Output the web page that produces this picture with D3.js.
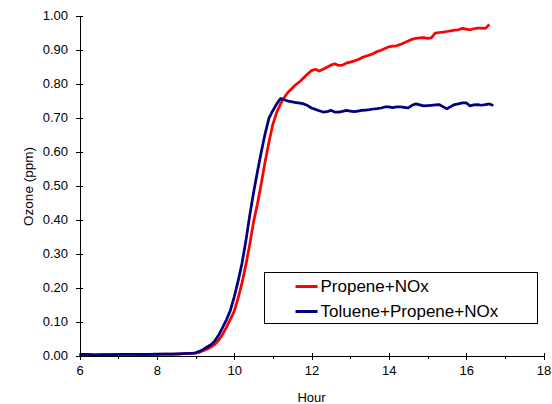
<!DOCTYPE html>
<html>
<head>
<meta charset="utf-8">
<script src="https://cdn.jsdelivr.net/npm/d3@7"></script>
<style>
	body { margin: 0; background: #fff; }
	svg text { font-family: "Liberation Sans", Arial, sans-serif; fill: #000; }
	.axis path, .axis line { stroke: #000; shape-rendering: crispEdges; }
</style>
</head>
<body>
<script>
// time of day (hours)
var hours = [6.0, 6.2, 6.4, 6.6, 6.8, 7.0, 7.2, 7.4, 7.6, 7.8, 8.0, 8.2, 8.4, 8.6, 8.8,
	8.9, 9.0, 9.1, 9.2, 9.3, 9.4, 9.5, 9.6, 9.7, 9.8,
	9.9, 10.0, 10.1, 10.2, 10.3, 10.4, 10.5, 10.6, 10.7, 10.8,
	10.9, 11.0, 11.1, 11.2, 11.3, 11.4, 11.5, 11.6, 11.7, 11.8,
	11.9, 12.0, 12.1, 12.2, 12.3, 12.4, 12.5, 12.6, 12.7, 12.8,
	12.9, 13.0, 13.1, 13.2, 13.3, 13.4, 13.5, 13.6, 13.7, 13.8,
	13.9, 14.0, 14.1, 14.2, 14.3, 14.4, 14.5, 14.6, 14.7, 14.8,
	14.9, 15.0, 15.1, 15.2, 15.3, 15.4, 15.5, 15.6, 15.7, 15.8,
	15.9, 16.0, 16.1, 16.2, 16.3, 16.4, 16.5, 16.6, 16.7];

// ozone (ppm), Propene+NOx run
var propene = [0.002, 0.002, 0.002, 0.003, 0.003, 0.003, 0.003, 0.003, 0.002, 0.003, 0.003, 0.004, 0.004, 0.005, 0.006,
	0.006, 0.007, 0.010, 0.014, 0.019, 0.025, 0.033, 0.045, 0.062, 0.083,
	0.106, 0.130, 0.168, 0.212, 0.265, 0.325, 0.392, 0.445, 0.505, 0.570,
	0.628, 0.680, 0.715, 0.740, 0.760, 0.775, 0.786, 0.797, 0.806, 0.817,
	0.828, 0.838, 0.842, 0.837, 0.842, 0.848, 0.854, 0.858, 0.853, 0.854,
	0.860, 0.863, 0.866, 0.870, 0.876, 0.880, 0.884, 0.888, 0.894, 0.898,
	0.903, 0.908, 0.910, 0.911, 0.915, 0.920, 0.925, 0.930, 0.933, 0.934,
	0.935, 0.933, 0.934, 0.948, 0.950, 0.951, 0.953, 0.955, 0.957, 0.958,
	0.962, 0.960, 0.958, 0.961, 0.963, 0.963, 0.962, 0.974, null];

// ozone (ppm), Toluene+Propene+NOx run
var toluene = [0.003, 0.003, 0.002, 0.002, 0.002, 0.003, 0.003, 0.003, 0.003, 0.003, 0.004, 0.004, 0.004, 0.005, 0.006,
	0.006, 0.008, 0.012, 0.018, 0.025, 0.032, 0.043, 0.060, 0.082, 0.105,
	0.132, 0.172, 0.218, 0.270, 0.335, 0.410, 0.478, 0.540, 0.598, 0.652,
	0.698, 0.720, 0.740, 0.756, 0.752, 0.748, 0.746, 0.744, 0.742, 0.740,
	0.735, 0.728, 0.724, 0.720, 0.716, 0.717, 0.721, 0.716, 0.716, 0.718,
	0.721, 0.719, 0.717, 0.719, 0.721, 0.722, 0.723, 0.725, 0.726, 0.728,
	0.731, 0.731, 0.729, 0.731, 0.731, 0.730, 0.728, 0.736, 0.740, 0.737,
	0.734, 0.735, 0.736, 0.737, 0.738, 0.732, 0.726, 0.732, 0.738, 0.740,
	0.743, 0.743, 0.734, 0.737, 0.738, 0.736, 0.738, 0.740, 0.735];

var seriesNames = ["Propene+NOx", "Toluene+Propene+NOx"];
var seriesColors = ["#ff0000", "#000080"];
var xTicks = [6, 8, 10, 12, 14, 16, 18];
var xMinorTicks = [7, 9, 11, 13, 15, 17];
var yTicks = [0, 0.1, 0.2, 0.3, 0.4, 0.5, 0.6, 0.7, 0.8, 0.9, 1.0];

var width = 552, height = 404;
var plot = {left: 79.5, right: 543.5, top: 15.5, bottom: 355.5};

var x = d3.scaleLinear().domain([6, 18]).range([plot.left, plot.right]);
var y = d3.scaleLinear().domain([0, 1]).range([plot.bottom, plot.top]);

var svg = d3.select("body").append("svg")
	.attr("width", width)
	.attr("height", height);

// series lines
var series = [propene, toluene];
var line = d3.line()
	.defined(function(d) { return d[1] != null; })
	.x(function(d) { return x(d[0]); })
	.y(function(d) { return y(d[1]); });

series.forEach(function(vals, i) {
	svg.append("path")
		.datum(hours.map(function(h, j) { return [h, vals[j]]; }))
		.attr("fill", "none")
		.attr("stroke", seriesColors[i])
		.attr("stroke-width", 2.75)
		.attr("stroke-linejoin", "round")
		.attr("d", line);
});

// axes
var gY = svg.append("g")
	.attr("class", "axis")
	.attr("transform", "translate(" + plot.left + ",0)")
	.call(d3.axisLeft(y).tickValues(yTicks).tickSize(3.5).tickSizeOuter(0).tickPadding(8)
		.tickFormat(d3.format(".2f")));
gY.selectAll(".tick line").attr("x1", 3);
gY.selectAll("text").style("font-size", "13px");

var gX = svg.append("g")
	.attr("class", "axis")
	.attr("transform", "translate(0," + plot.bottom + ")")
	.call(d3.axisBottom(x).tickValues(xTicks).tickSize(4).tickSizeOuter(0).tickPadding(6)
		.tickFormat(d3.format("d")));
gX.selectAll(".tick line").attr("y1", -3);
gX.selectAll("text").style("font-size", "13px");

svg.append("g")
	.attr("class", "axis")
	.attr("transform", "translate(0," + plot.bottom + ")")
	.call(d3.axisBottom(x).tickValues(xMinorTicks).tickSize(3).tickSizeOuter(0).tickFormat(""))
	.select(".domain").remove();

// axis labels
svg.append("text")
	.attr("x", 311.5)
	.attr("y", 402)
	.style("text-anchor", "middle")
	.style("font-size", "13px")
	.text("Hour");
svg.append("text")
	.attr("transform", "rotate(-90)")
	.attr("x", -186.5)
	.attr("y", 33)
	.style("text-anchor", "middle")
	.style("font-size", "13.5px")
	.text("Ozone (ppm)");

// legend
var legend = svg.append("g").attr("transform", "translate(264.5,272.5)");
legend.append("rect")
	.attr("width", 273)
	.attr("height", 51)
	.attr("fill", "#fff")
	.attr("stroke", "#000")
	.attr("stroke-width", 1);
seriesNames.forEach(function(name, i) {
	var row = legend.append("g").attr("transform", "translate(0," + (14 + i * 25) + ")");
	row.append("line")
		.attr("x1", 31).attr("x2", 53)
		.attr("stroke", seriesColors[i])
		.attr("stroke-width", 3);
	row.append("text")
		.attr("x", 56)
		.attr("dy", "0.35em")
		.style("font-size", "17px")
		.text(name);
});
</script>
</body>
</html>
